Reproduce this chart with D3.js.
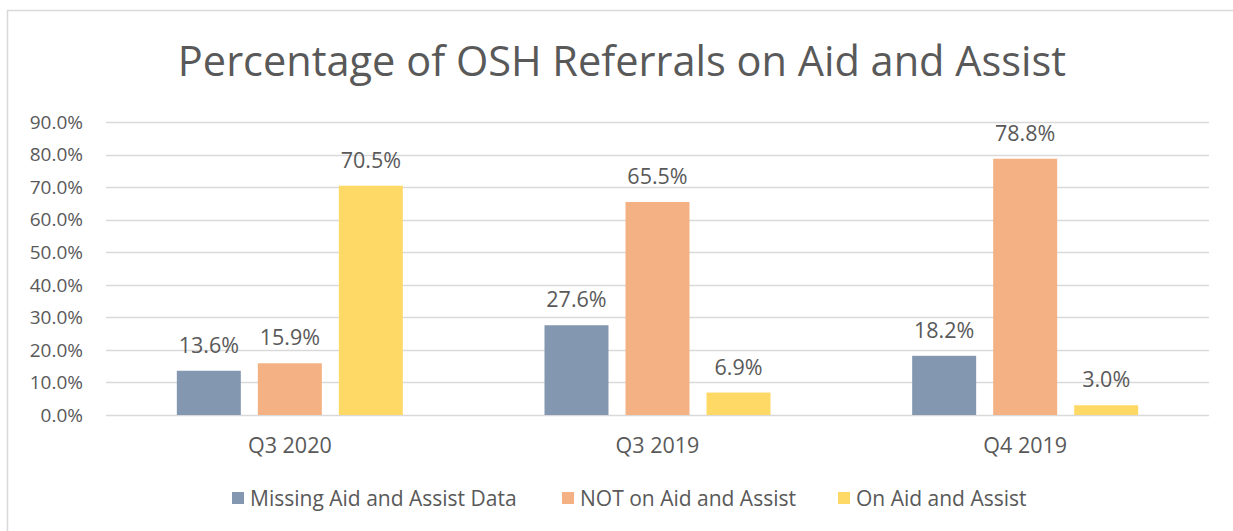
<!DOCTYPE html>
<html><head><meta charset="utf-8">
<script src="https://cdn.jsdelivr.net/npm/d3@7"></script>
<style>body{margin:0;background:#fff}svg{display:block}text{font-family:"Open Sans",sans-serif;fill:#595959}</style>
</head><body><svg id="c" width="1233" height="531"></svg>
<script>
const categories = ["Q3 2020", "Q3 2019", "Q4 2019"];
const seriesNames = ["Missing Aid and Assist Data", "NOT on Aid and Assist", "On Aid and Assist"];
const missingData = [13.6, 27.6, 18.2];
const notOnAid = [15.9, 65.5, 78.8];
const onAid = [70.5, 6.9, 3.0];
const yTicks = [0, 10, 20, 30, 40, 50, 60, 70, 80, 90];
const colors = ["#8497B0", "#F4B183", "#FFD966"];
const title = "Percentage of OSH Referrals on Aid and Assist";

const seriesValues = [missingData, notOnAid, onAid];
const svg = d3.select("#c");
svg.append("rect").attr("x", 7.5).attr("y", 10.5).attr("width", 1300).attr("height", 600)
  .attr("fill", "#fff").attr("stroke", "#d9d9d9").attr("stroke-width", 1.5);

svg.append("text").attr("x", 622).attr("y", 76).attr("text-anchor", "middle")
  .attr("font-size", 41.5).text(title);

const plotL = 106, plotR = 1209;
const y = d3.scaleLinear().domain([0, 90]).range([415, 122.3]);
const x0 = d3.scaleBand().domain(categories).range([plotL, plotR]).padding(0);
const groupW = 226;
const x1 = d3.scaleBand().domain(seriesNames).range([0, groupW]).paddingInner(0.21).paddingOuter(0);

const grid = svg.append("g");
grid.selectAll("line").data(yTicks).join("line")
  .attr("x1", plotL).attr("x2", plotR)
  .attr("y1", d => Math.round(y(d)) + 0.5).attr("y2", d => Math.round(y(d)) + 0.5)
  .attr("stroke", "#d9d9d9").attr("stroke-width", 1.3);

const yAxis = d3.axisLeft(y).tickValues(yTicks).tickFormat(d => d.toFixed(1) + "%").tickSize(0).tickPadding(0);
const ya = svg.append("g").attr("transform", "translate(83,0)").call(yAxis);
ya.select(".domain").remove();
ya.selectAll("text").attr("font-size", 19).attr("fill", "#595959").attr("font-family", "Open Sans");

const groups = svg.append("g").selectAll("g").data(categories).join("g")
  .attr("transform", d => `translate(${x0(d) + (x0.bandwidth() - groupW) / 2},0)`);

groups.each(function(cat, ci) {
  const g = d3.select(this);
  const data = seriesNames.map((s, si) => ({s, si, v: seriesValues[si][ci]}));
  g.selectAll("rect").data(data).join("rect")
    .attr("x", d => x1(d.s)).attr("width", x1.bandwidth())
    .attr("y", d => y(d.v)).attr("height", d => y(0) - y(d.v))
    .attr("fill", d => colors[d.si]);
  g.selectAll("text.v").data(data).join("text").attr("class", "v")
    .attr("x", d => x1(d.s) + x1.bandwidth() / 2).attr("y", d => y(d.v) - 18)
    .attr("text-anchor", "middle").attr("font-size", 21.5).text(d => d.v.toFixed(1) + "%");
});

const xAxis = d3.axisBottom(x0).tickSize(0).tickPadding(0);
const xa = svg.append("g").attr("transform", "translate(0,438)").call(xAxis);
xa.select(".domain").remove();
xa.selectAll("text").attr("font-size", 21.5).attr("fill", "#595959").attr("font-family", "Open Sans");

const legendX = [232, 562, 838];
const lg = svg.append("g").selectAll("g").data(seriesNames).join("g")
  .attr("transform", (d, i) => `translate(${legendX[i]},492)`);
lg.append("rect").attr("width", 12).attr("height", 12).attr("fill", (d, i) => colors[i]);
lg.append("text").attr("x", 18).attr("y", 13.5).attr("font-size", 21).text(d => d);
</script></body></html>
